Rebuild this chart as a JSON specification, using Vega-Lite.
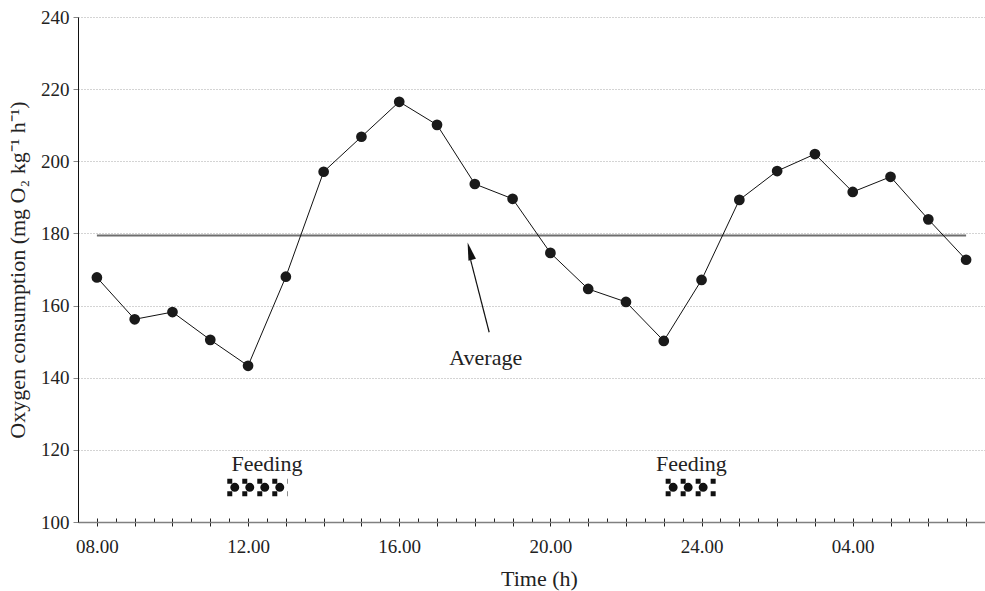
{
  "$schema": "https://vega.github.io/schema/vega-lite/v6.json",
  "width": 907,
  "height": 505,
  "autosize": "none",
  "padding": {"left": 78, "top": 17, "right": 0, "bottom": 69},
  "background": "white",
  "config": {
    "view": {"stroke": null},
    "font": "Liberation Serif",
    "axis": {
      "labelFont": "Liberation Serif",
      "titleFont": "Liberation Serif",
      "labelFontSize": 19,
      "titleFontSize": 22,
      "labelColor": "#222222",
      "titleColor": "#222222",
      "titleFontWeight": "normal"
    },
    "axisY": {
      "tickSize": 5,
      "tickColor": "#888888",
      "domainColor": "#111111",
      "domainWidth": 1,
      "grid": true,
      "gridDash": [1, 2],
      "gridColor": "#a8a8a8",
      "gridWidth": 1,
      "labelPadding": 4,
      "titleX": -61,
      "titleBaseline": "middle",
      "titleAngle": -90
    }
  },
  "datasets": {
    "series": [
      {"hour": 8, "o2": 167.8},
      {"hour": 9, "o2": 156.2},
      {"hour": 10, "o2": 158.2},
      {"hour": 11, "o2": 150.5},
      {"hour": 12, "o2": 143.3},
      {"hour": 13, "o2": 168.0},
      {"hour": 14, "o2": 197.1},
      {"hour": 15, "o2": 206.8},
      {"hour": 16, "o2": 216.5},
      {"hour": 17, "o2": 210.1},
      {"hour": 18, "o2": 193.7},
      {"hour": 19, "o2": 189.6},
      {"hour": 20, "o2": 174.6},
      {"hour": 21, "o2": 164.6},
      {"hour": 22, "o2": 161.0},
      {"hour": 23, "o2": 150.2},
      {"hour": 24, "o2": 167.1},
      {"hour": 25, "o2": 189.3},
      {"hour": 26, "o2": 197.3},
      {"hour": 27, "o2": 202.0},
      {"hour": 28, "o2": 191.5},
      {"hour": 29, "o2": 195.7},
      {"hour": 30, "o2": 183.9},
      {"hour": 31, "o2": 172.7}
    ],
    "average": [{"start": 8, "end": 31, "o2": 179.4}],
    "feeding": [
      {"start": 11.45, "end": 13.05, "o2": 109.6, "label_hour": 12.5, "label_o2": 116.1, "label": "Feeding"},
      {"start": 23.05, "end": 24.4, "o2": 109.6, "label_hour": 23.73, "label_o2": 116.1, "label": "Feeding"}
    ],
    "annotation": [
      {"hour_from": 18.38, "o2_from": 152.6, "hour_to": 17.89, "o2_to": 172.6, "tip_hour": 17.87, "tip_o2": 175.1, "label_hour": 18.29, "label_o2": 145.6, "label": "Average"}
    ]
  },
  "layer": [
    {
      "data": {"name": "average"},
      "mark": {"type": "rule", "color": "#6e6e6e", "strokeWidth": 2},
      "encoding": {
        "x": {
          "field": "start", "type": "quantitative",
          "scale": {"domain": [7.5, 31.5], "nice": false, "zero": false},
          "axis": {
            "orient": "bottom",
            "values": [8, 8.5, 9, 9.5, 10, 10.5, 11, 11.5, 12, 12.5, 13, 13.5, 14, 14.5, 15, 15.5, 16, 16.5, 17, 17.5, 18, 18.5, 19, 19.5, 20, 20.5, 21, 21.5, 22, 22.5, 23, 23.5, 24, 24.5, 25, 25.5, 26, 26.5, 27, 27.5, 28, 28.5, 29, 29.5, 30, 30.5, 31, 31.5],
            "tickSize": -4,
            "tickColor": "#222222",
            "labels": false,
            "domain": false,
            "grid": false,
            "title": null
          }
        },
        "x2": {"field": "end"},
        "y": {
          "field": "o2", "type": "quantitative",
          "scale": {"domain": [100, 240], "nice": false, "zero": false},
          "axis": {"values": [100, 120, 140, 160, 180, 200, 220, 240]},
          "title": "Oxygen consumption (mg O₂ kg⁻¹ h⁻¹)"
        }
      }
    },
    {
      "data": {"name": "series"},
      "mark": {
        "type": "line",
        "color": "#111111",
        "strokeWidth": 1,
        "point": {"filled": true, "size": 115, "color": "#1a1a1a", "opacity": 1}
      },
      "encoding": {
        "x": {
          "field": "hour", "type": "quantitative",
          "scale": {"domain": [7.5, 31.5], "nice": false, "zero": false},
          "axis": {
            "orient": "bottom",
            "values": [8, 9, 10, 11, 12, 13, 14, 15, 16, 17, 18, 19, 20, 21, 22, 23, 24, 25, 26, 27, 28, 29, 30, 31],
            "labelExpr": "datum.value % 4 != 0 ? '' : (datum.value > 24 ? '0' + (datum.value - 24) : (datum.value < 10 ? '0' + datum.value : '' + datum.value)) + '.00'",
            "tickSize": 4,
            "tickColor": "#222222",
            "domainColor": "#808080",
            "domainWidth": 1.5,
            "labelPadding": 11,
            "labelFlush": false,
            "labelOverlap": false,
            "grid": false,
            "title": "Time (h)",
            "titleX": 461,
            "titleY": 56,
            "titleBaseline": "middle"
          }
        },
        "y": {
          "field": "o2", "type": "quantitative",
          "scale": {"domain": [100, 240], "nice": false, "zero": false},
          "axis": {"values": [100, 120, 140, 160, 180, 200, 220, 240]},
          "title": "Oxygen consumption (mg O₂ kg⁻¹ h⁻¹)"
        }
      }
    },
    {
      "data": {"name": "annotation"},
      "mark": {"type": "rule", "color": "#111111", "strokeWidth": 1.2},
      "encoding": {
        "x": {"field": "hour_from", "type": "quantitative", "scale": {"domain": [7.5, 31.5], "nice": false, "zero": false}, "axis": null},
        "y": {"field": "o2_from", "type": "quantitative", "scale": {"domain": [100, 240], "nice": false, "zero": false}, "axis": {"values": [100, 120, 140, 160, 180, 200, 220, 240]}, "title": "Oxygen consumption (mg O₂ kg⁻¹ h⁻¹)"},
        "x2": {"field": "hour_to"},
        "y2": {"field": "o2_to"}
      }
    },
    {
      "data": {"name": "annotation"},
      "mark": {"type": "point", "shape": "M0,-1L0.43,1L-0.43,1Z", "size": 324, "angle": 345.2, "filled": true, "color": "#111111", "opacity": 1},
      "encoding": {
        "x": {"field": "tip_hour", "type": "quantitative", "scale": {"domain": [7.5, 31.5], "nice": false, "zero": false}, "axis": null},
        "y": {"field": "tip_o2", "type": "quantitative", "scale": {"domain": [100, 240], "nice": false, "zero": false}, "axis": {"values": [100, 120, 140, 160, 180, 200, 220, 240]}, "title": "Oxygen consumption (mg O₂ kg⁻¹ h⁻¹)"}
      }
    },
    {
      "data": {"name": "annotation"},
      "mark": {"type": "text", "fontSize": 22, "color": "#222222", "align": "center", "baseline": "middle"},
      "encoding": {
        "x": {"field": "label_hour", "type": "quantitative", "scale": {"domain": [7.5, 31.5], "nice": false, "zero": false}, "axis": null},
        "y": {"field": "label_o2", "type": "quantitative", "scale": {"domain": [100, 240], "nice": false, "zero": false}, "axis": {"values": [100, 120, 140, 160, 180, 200, 220, 240]}, "title": "Oxygen consumption (mg O₂ kg⁻¹ h⁻¹)"},
        "text": {"field": "label"}
      }
    },
    {
      "data": {"name": "feeding"},
      "mark": {"type": "text", "fontSize": 22, "color": "#222222", "align": "center", "baseline": "middle"},
      "encoding": {
        "x": {"field": "label_hour", "type": "quantitative", "scale": {"domain": [7.5, 31.5], "nice": false, "zero": false}, "axis": null},
        "y": {"field": "label_o2", "type": "quantitative", "scale": {"domain": [100, 240], "nice": false, "zero": false}, "axis": {"values": [100, 120, 140, 160, 180, 200, 220, 240]}, "title": "Oxygen consumption (mg O₂ kg⁻¹ h⁻¹)"},
        "text": {"field": "label"}
      }
    },
    {
      "data": {"name": "feeding"},
      "mark": {"type": "rule", "color": "#111111", "strokeWidth": 5, "strokeDash": [5, 10], "yOffset": -6},
      "encoding": {
        "x": {"field": "start", "type": "quantitative", "scale": {"domain": [7.5, 31.5], "nice": false, "zero": false}, "axis": null},
        "x2": {"field": "end"},
        "y": {"field": "o2", "type": "quantitative", "scale": {"domain": [100, 240], "nice": false, "zero": false}, "axis": {"values": [100, 120, 140, 160, 180, 200, 220, 240]}, "title": "Oxygen consumption (mg O₂ kg⁻¹ h⁻¹)"}
      }
    },
    {
      "data": {"name": "feeding"},
      "mark": {"type": "rule", "color": "#111111", "strokeWidth": 9, "strokeCap": "round", "strokeDash": [0, 15], "strokeDashOffset": -7.5},
      "encoding": {
        "x": {"field": "start", "type": "quantitative", "scale": {"domain": [7.5, 31.5], "nice": false, "zero": false}, "axis": null},
        "x2": {"field": "end"},
        "y": {"field": "o2", "type": "quantitative", "scale": {"domain": [100, 240], "nice": false, "zero": false}, "axis": {"values": [100, 120, 140, 160, 180, 200, 220, 240]}, "title": "Oxygen consumption (mg O₂ kg⁻¹ h⁻¹)"}
      }
    },
    {
      "data": {"name": "feeding"},
      "mark": {"type": "rule", "color": "#111111", "strokeWidth": 5, "strokeDash": [5, 10], "yOffset": 6.5},
      "encoding": {
        "x": {"field": "start", "type": "quantitative", "scale": {"domain": [7.5, 31.5], "nice": false, "zero": false}, "axis": null},
        "x2": {"field": "end"},
        "y": {"field": "o2", "type": "quantitative", "scale": {"domain": [100, 240], "nice": false, "zero": false}, "axis": {"values": [100, 120, 140, 160, 180, 200, 220, 240]}, "title": "Oxygen consumption (mg O₂ kg⁻¹ h⁻¹)"}
      }
    }
  ],
  "resolve": {"axis": {"x": "independent"}}
}
